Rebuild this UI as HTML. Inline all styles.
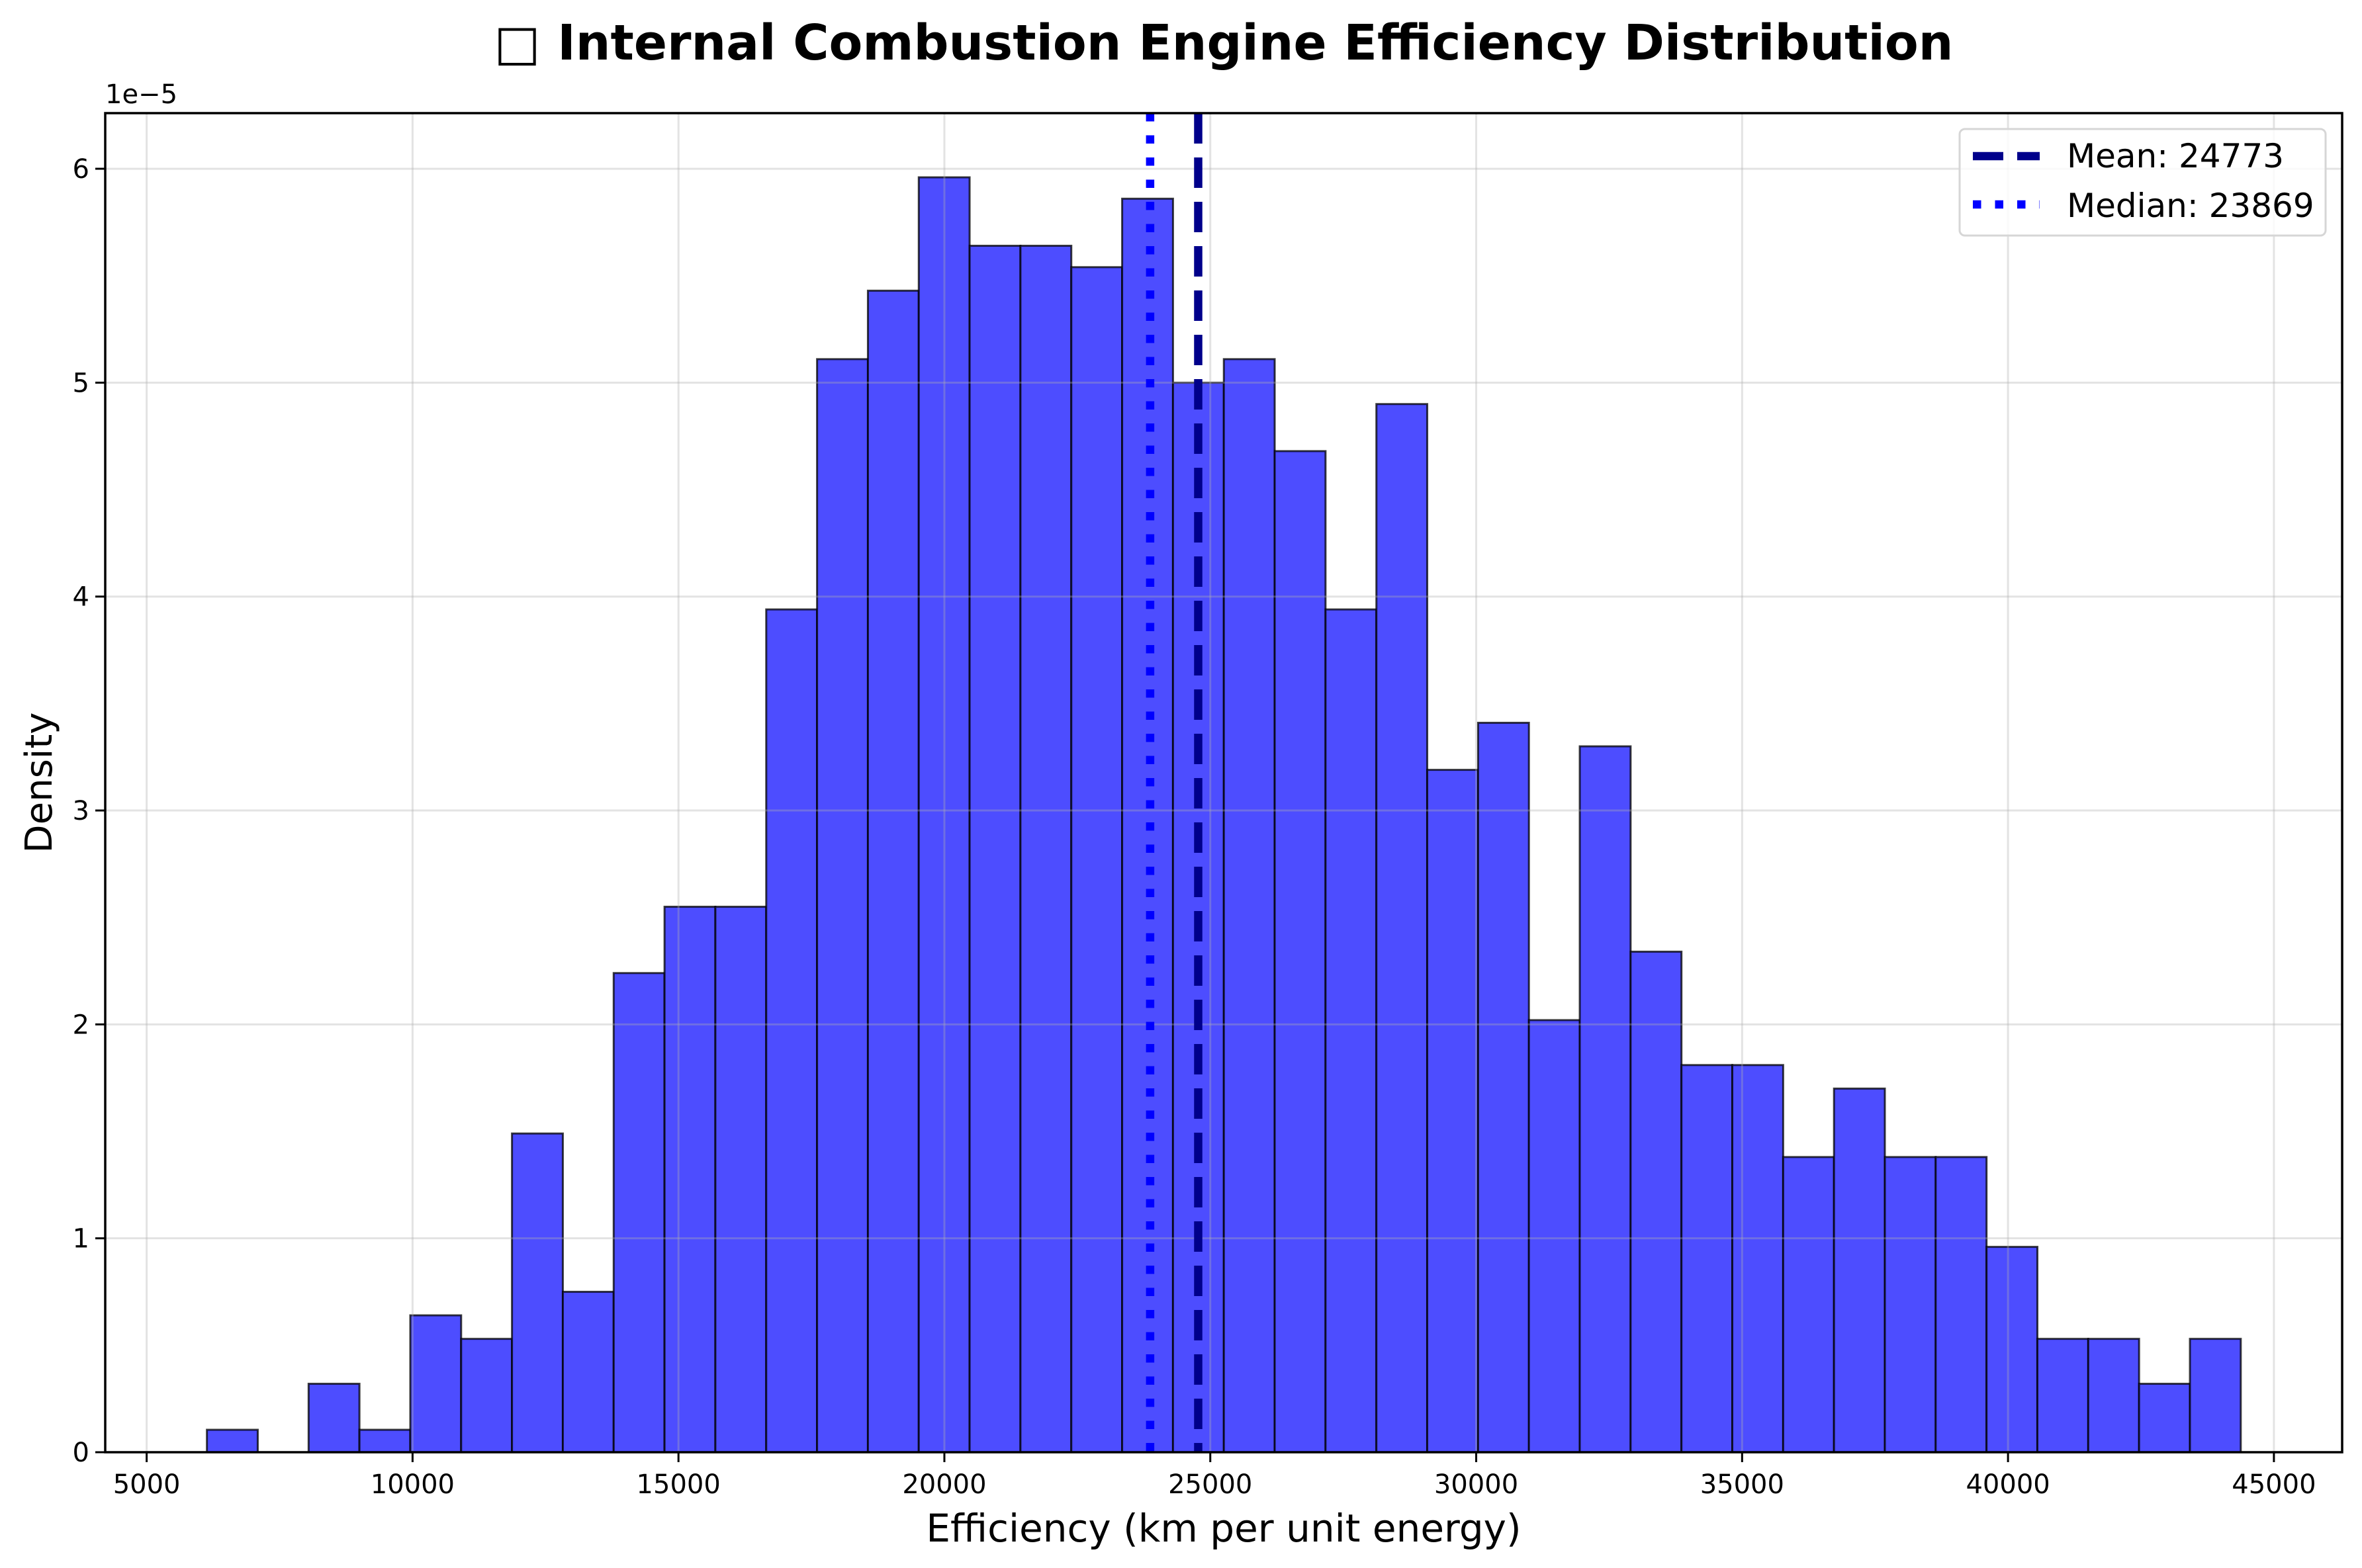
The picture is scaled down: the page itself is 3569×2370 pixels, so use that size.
<!DOCTYPE html>
<html><head><meta charset="utf-8"><style>
html,body{margin:0;padding:0;background:#fff;width:3569px;height:2370px;overflow:hidden}
svg text{font-family:"DejaVu Sans","Liberation Sans",sans-serif}
</style></head><body>
<svg id="chart" width="3569" height="2370" xmlns="http://www.w3.org/2000/svg">
<rect x="0" y="0" width="3569" height="2370" fill="#fff"/>
<g id="bars"></g>
<g id="grid"></g>
<g id="refs"></g>
<g id="axes"></g>
<text x="1849" y="90" text-anchor="middle" font-size="74" font-weight="bold">□ Internal Combustion Engine Efficiency Distribution</text>
<text x="1849" y="2330" text-anchor="middle" font-size="58">Efficiency (km per unit energy)</text>
<text x="78" y="1183" text-anchor="middle" font-size="56" transform="rotate(-90 78 1183)">Density</text>
<text x="159" y="156" font-size="40">1e−5</text>
<g>
<rect x="2961" y="195" width="553" height="161" rx="8" fill="#fff" fill-opacity="0.8" stroke="#d6d6d6" stroke-width="3"/>
<line x1="2981" y1="236" x2="3082" y2="236" stroke="#00008b" stroke-width="12.5" stroke-dasharray="46,21"/>
<text x="3123" y="253" font-size="50">Mean: 24773</text>
<line x1="2981" y1="309" x2="3082" y2="309" stroke="#0000ff" stroke-width="12.5" stroke-dasharray="12.5,21"/>
<text x="3123" y="328" font-size="50">Median: 23869</text>
</g>
</svg>
<script>
const binStart = 6133;
const binWidth = 956.1;
const densities = [0.105,0,0.32,0.105,0.64,0.53,1.49,0.75,2.24,2.55,2.55,3.94,5.11,5.43,5.96,5.64,5.64,5.54,5.86,5.00,5.11,4.68,3.94,4.90,3.19,3.41,2.02,3.30,2.34,1.81,1.81,1.38,1.70,1.38,1.38,0.96,0.53,0.53,0.32,0.53];
const xTicks = [5000,10000,15000,20000,25000,30000,35000,40000,45000];
const yTicks = [0,1,2,3,4,5,6];
const meanVal = 24773;
const medianVal = 23869;

const L=159,R=3539,T=171,B=2195;
const xMin=4221,xMax=46283,yMin=0,yMax=6.26;
function sx(v){return L+(v-xMin)/(xMax-xMin)*(R-L);}
function sy(v){return B-(v-yMin)/(yMax-yMin)*(B-T);}
const NS="http://www.w3.org/2000/svg";
function mk(tag,attrs,parent){const e=document.createElementNS(NS,tag);for(const k in attrs)e.setAttribute(k,attrs[k]);parent.appendChild(e);return e;}

const bars=document.getElementById('bars');
densities.forEach((d,i)=>{
  if(d<=0)return;
  const x0=sx(binStart+i*binWidth),x1=sx(binStart+(i+1)*binWidth);
  const r=mk('rect',{x:x0,y:sy(d),width:x1-x0,height:sy(0)-sy(d),fill:'#4d4dff',stroke:'rgba(0,0,0,0.75)','stroke-width':3},bars);
  
  
});
const grid=document.getElementById('grid');
const axes=document.getElementById('axes');
xTicks.forEach(t=>{
  const x=sx(t);
  const g=mk('line',{x1:x,y1:T,x2:x,y2:B,stroke:'rgba(176,176,176,0.35)','stroke-width':3},grid);
  
  
  mk('line',{x1:x,y1:B,x2:x,y2:B+15,stroke:'#000','stroke-width':3},axes);
  const tx=mk('text',{x:x,y:B+62,'text-anchor':'middle','font-size':40},axes);
  tx.textContent=t;
  
  
});
yTicks.forEach(t=>{
  const y=sy(t);
  const g=mk('line',{x1:L,y1:y,x2:R,y2:y,stroke:'rgba(176,176,176,0.35)','stroke-width':3},grid);
  
  
  mk('line',{x1:L-15,y1:y,x2:L,y2:y,stroke:'#000','stroke-width':3},axes);
  const tx=mk('text',{x:L-24,y:y+14,'text-anchor':'end','font-size':40},axes);
  tx.textContent=t;
  
  
});
const refs=document.getElementById('refs');
const ml=mk('line',{x1:sx(meanVal),y1:T,x2:sx(meanVal),y2:B,stroke:'#00008b','stroke-width':12.5,'stroke-dasharray':'46,21'},refs);


const md=mk('line',{x1:sx(medianVal),y1:T,x2:sx(medianVal),y2:B,stroke:'#0000ff','stroke-width':12.5,'stroke-dasharray':'12.5,21'},refs);


const fr=mk('rect',{x:L,y:T,width:R-L,height:B-T,fill:'none',stroke:'#000','stroke-width':3.5},axes);


</script>
</body></html>
